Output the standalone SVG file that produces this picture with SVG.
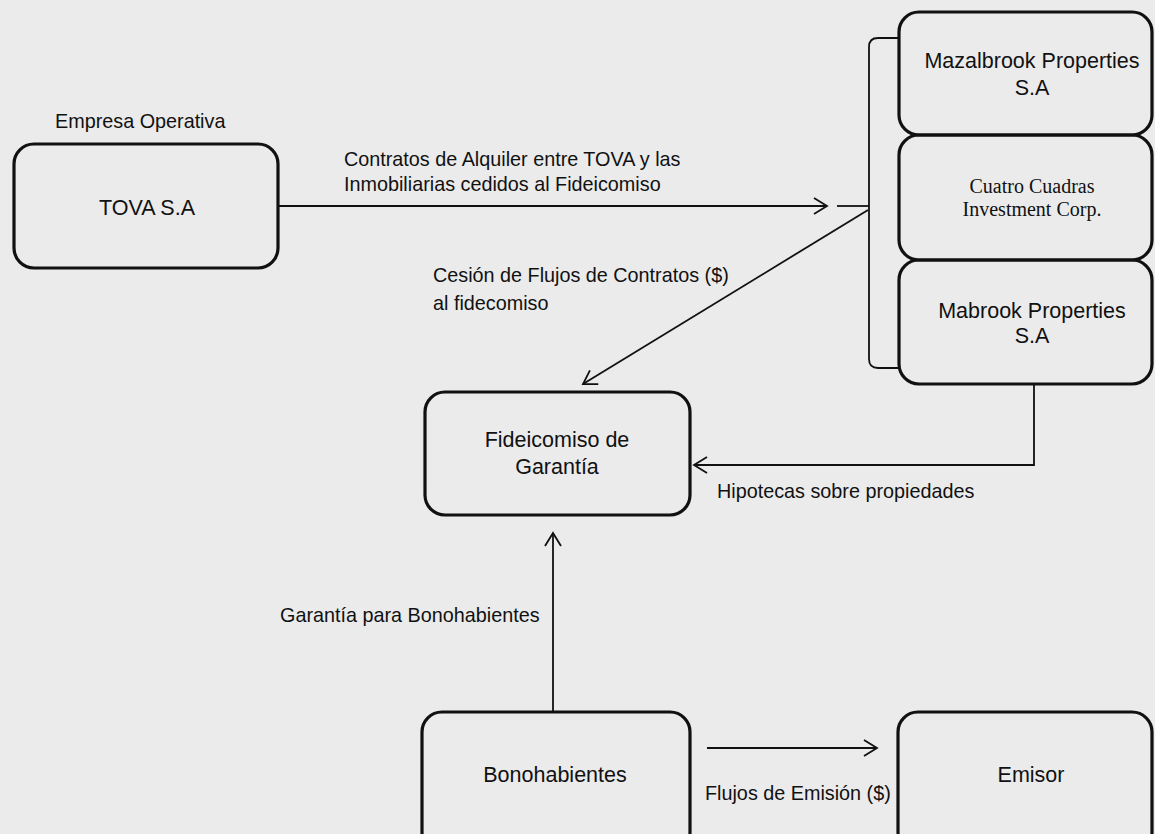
<svg xmlns="http://www.w3.org/2000/svg" width="1155" height="834" viewBox="0 0 1155 834">
  <defs>
    <marker id="chev" markerUnits="userSpaceOnUse" markerWidth="20" markerHeight="20" viewBox="-15 -10 20 20" refX="0" refY="0" orient="auto">
      <path d="M -13 -8 L 0 0 L -13 8" fill="none" stroke="#111" stroke-width="1.8"/>
    </marker>
    <style>
      .box { fill: none; stroke: #111; stroke-width: 3.2; }
      .node { font-family: "Liberation Sans", Arial, sans-serif; font-size: 21.5px; fill: #111; text-anchor: middle; }
      .serif { font-family: "Liberation Serif", "Times New Roman", serif; font-size: 20px; fill: #111; text-anchor: middle; }
      .lbl { font-family: "Liberation Sans", Arial, sans-serif; font-size: 19.8px; fill: #111; }
      .conn { fill: none; stroke: #111; stroke-width: 1.8; }
    </style>
  </defs>
  <rect x="0" y="0" width="1155" height="834" fill="#ebebeb"/>

  <g id="label-empresa">
    <text class="lbl" x="55" y="128">Empresa Operativa</text>
  </g>

  <g id="node-tova">
    <rect class="box" x="14" y="144" width="264" height="124" rx="20"/>
    <text class="node" x="147" y="215">TOVA S.A</text>
  </g>

  <g id="node-mazalbrook">
    <rect class="box" x="899" y="12" width="253" height="123" rx="20"/>
    <text class="node" x="1032" y="68">Mazalbrook Properties</text>
    <text class="node" x="1032" y="95">S.A</text>
  </g>

  <g id="node-cuatro">
    <rect class="box" x="899" y="135" width="253" height="125" rx="20"/>
    <text class="serif" x="1032" y="193">Cuatro Cuadras</text>
    <text class="serif" x="1032" y="216">Investment Corp.</text>
  </g>

  <g id="node-mabrook">
    <rect class="box" x="899" y="260" width="253" height="124" rx="20"/>
    <text class="node" x="1032" y="318">Mabrook Properties</text>
    <text class="node" x="1032" y="343">S.A</text>
  </g>

  <g id="node-fideicomiso">
    <rect class="box" x="425" y="392" width="265" height="123" rx="20"/>
    <text class="node" x="557" y="447">Fideicomiso de</text>
    <text class="node" x="557" y="474">Garantía</text>
  </g>

  <g id="node-bonohabientes">
    <rect class="box" x="422" y="712" width="268" height="140" rx="20"/>
    <text class="node" x="555" y="782">Bonohabientes</text>
  </g>

  <g id="node-emisor">
    <rect class="box" x="898" y="712" width="254" height="140" rx="20"/>
    <text class="node" x="1031" y="782">Emisor</text>
  </g>

  <g id="connectors">
    <!-- bracket grouping the three properties -->
    <path class="conn" d="M 898 38 L 878 38 Q 869 38 869 47 L 869 359 Q 869 368 878 368 L 898 368"/>
    <line class="conn" x1="837" y1="206" x2="869" y2="206"/>
    <!-- TOVA to properties -->
    <line class="conn" x1="279" y1="206" x2="827" y2="206" marker-end="url(#chev)"/>
    <!-- properties to fideicomiso (cesion de flujos) -->
    <line class="conn" x1="868" y1="210" x2="583" y2="384" marker-end="url(#chev)"/>
    <!-- Mabrook to fideicomiso (hipotecas) -->
    <polyline class="conn" points="1034,385 1034,465 694,465" marker-end="url(#chev)"/>
    <!-- Bonohabientes to fideicomiso -->
    <line class="conn" x1="553" y1="712" x2="553" y2="533" marker-end="url(#chev)"/>
    <!-- Bonohabientes to emisor -->
    <line class="conn" x1="707" y1="748" x2="877" y2="748" marker-end="url(#chev)"/>
  </g>

  <g id="connector-labels">
    <text class="lbl" x="344" y="166">Contratos de Alquiler entre TOVA y las</text>
    <text class="lbl" x="344" y="191">Inmobiliarias cedidos al Fideicomiso</text>
    <text class="lbl" x="433" y="282">Cesión de Flujos de Contratos ($)</text>
    <text class="lbl" x="433" y="310">al fidecomiso</text>
    <text class="lbl" x="717" y="498">Hipotecas sobre propiedades</text>
    <text class="lbl" x="280" y="622">Garantía para Bonohabientes</text>
    <text class="lbl" x="705" y="800">Flujos de Emisión ($)</text>
  </g>
</svg>
